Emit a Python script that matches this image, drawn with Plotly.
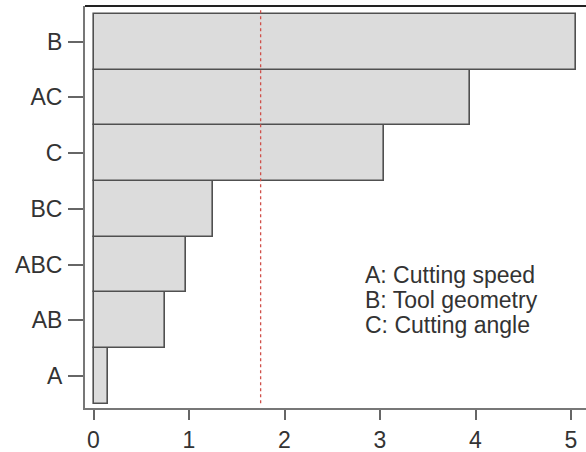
import plotly.graph_objects as go

effects = ["A", "AB", "ABC", "BC", "C", "AC", "B"]
values = [0.15, 0.75, 0.97, 1.25, 3.04, 3.94, 5.05]
critical_value = 1.75
legend_lines = ["A: Cutting speed", "B: Tool geometry", "C: Cutting angle"]

FONT = "Liberation Sans, Arial, sans-serif"

fig = go.Figure()
fig.add_trace(go.Bar(
    x=values, y=effects, orientation="h",
    marker=dict(color="#dcdcdc", line=dict(color="#505050", width=1.6)),
    width=1.0, hoverinfo="x+y",
))

fig.add_shape(type="line", xref="x", yref="paper",
              x0=critical_value, x1=critical_value, y0=0.012, y1=0.99,
              line=dict(color="#d0504a", width=1.3, dash="dot"))

# top frame line (darker)
fig.add_shape(type="line", xref="paper", yref="paper", x0=0, x1=1, y0=1, y1=1,
              line=dict(color="#222222", width=2))

ys = [0.331, 0.269, 0.206]
for t, yy in zip(legend_lines, ys):
    fig.add_annotation(text=t, xref="paper", yref="paper", x=0.555, y=yy,
                       xanchor="left", yanchor="middle", showarrow=False,
                       font=dict(family=FONT, size=23, color="#333333"))

fig.update_layout(
    width=586, height=452,
    margin=dict(l=85, r=0, t=6, b=44, autoexpand=False),
    paper_bgcolor="white", plot_bgcolor="white",
    showlegend=False, bargap=0,
    font=dict(family=FONT, size=23, color="#333333"),
    xaxis=dict(range=[-0.089, 5.157], tickvals=[0, 1, 2, 3, 4, 5],
               ticks="outside", ticklen=10, tickwidth=1.5, tickcolor="#666666",
               showline=True, linecolor="#777777", linewidth=2,
               showgrid=False, zeroline=False, automargin=False,
               ticklabelstandoff=0,
               tickfont=dict(family=FONT, size=23, color="#333333")),
    yaxis=dict(type="category", categoryorder="array", categoryarray=effects,
               range=[-0.575, 6.64], automargin=False,
               ticks="outside", ticklen=15, tickwidth=1.5, tickcolor="#666666",
               showline=True, linecolor="#777777", linewidth=2,
               showgrid=False, zeroline=False, ticklabelstandoff=1,
               tickfont=dict(family=FONT, size=23, color="#333333")),
)

fig.write_html("out.html", config={"displayModeBar": False},
               post_script="document.body.style.margin='0';document.body.style.overflow='hidden';")
